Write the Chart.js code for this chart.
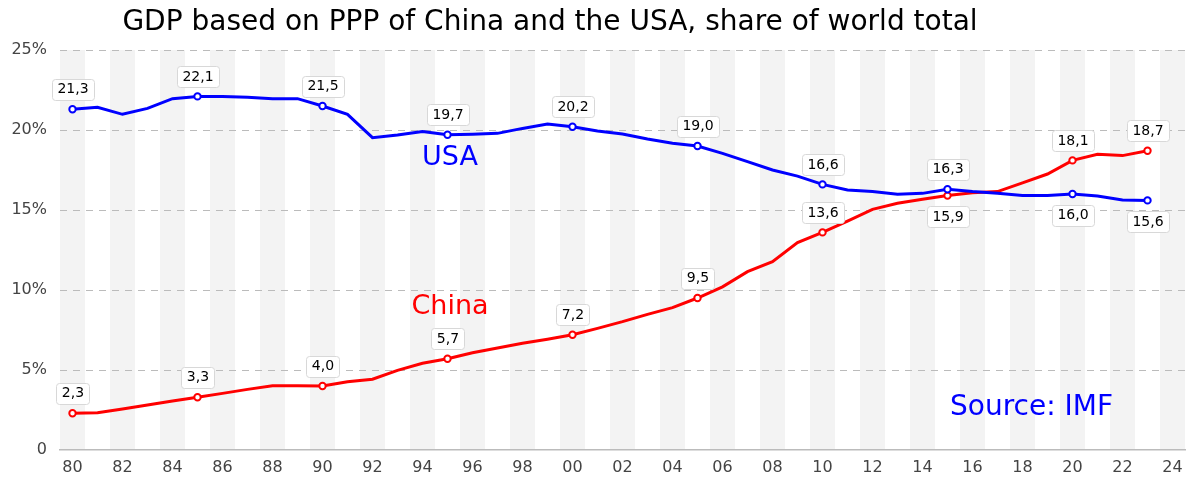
<!DOCTYPE html>
<html>
<head>
<meta charset="utf-8">
<script src="https://cdn.jsdelivr.net/npm/chart.js@4"></script>
<style>
html,body{margin:0;padding:0;background:#fff;}
#wrap{width:1200px;height:500px;position:relative;}
</style>
</head>
<body>
<div id="wrap"><canvas id="c" width="1200" height="500"></canvas></div>
<script>
const years = [1980,1981,1982,1983,1984,1985,1986,1987,1988,1989,1990,1991,1992,1993,1994,1995,1996,1997,1998,1999,2000,2001,2002,2003,2004,2005,2006,2007,2008,2009,2010,2011,2012,2013,2014,2015,2016,2017,2018,2019,2020,2021,2022,2023];
const usa = [21.3,21.42,20.98,21.35,21.96,22.1,22.1,22.04,21.96,21.96,21.5,20.98,19.52,19.69,19.9,19.7,19.73,19.79,20.1,20.37,20.2,19.94,19.75,19.44,19.17,19.0,18.54,18.02,17.5,17.12,16.6,16.25,16.15,15.98,16.04,16.3,16.15,16.04,15.9,15.9,16.0,15.87,15.62,15.6];
const china = [2.3,2.33,2.56,2.81,3.06,3.3,3.54,3.79,4.02,4.02,4.0,4.27,4.42,4.98,5.42,5.7,6.08,6.38,6.67,6.92,7.2,7.6,8.02,8.48,8.9,9.5,10.2,11.15,11.77,12.96,13.6,14.3,15.04,15.42,15.67,15.9,16.08,16.15,16.7,17.25,18.1,18.48,18.4,18.7];
const labelledYears = [1980,1985,1990,1995,2000,2005,2010,2015,2020,2023];
const usaLabelBelow = [2020,2023];
const chinaLabelBelow = [2015];
const xTickYears = [1980,1982,1984,1986,1988,1990,1992,1994,1996,1998,2000,2002,2004,2006,2008,2010,2012,2014,2016,2018,2020,2022,2024];
const yTicks = [0,5,10,15,20,25];
const titleText = 'GDP based on PPP of China and the USA, share of world total';
const notes = [
  {text:'USA', x:1995.1, y:18.27, color:'#0000ff', size:27},
  {text:'China', x:1995.1, y:8.96, color:'#ff0000', size:27},
  {text:'Source: IMF', x:2018.36, y:2.63, color:'#0000ff', size:28}
];

const FONT = "'DejaVu Sans', sans-serif";

function pts(vals){ return years.map((yr,i)=>({x:yr,y:vals[i]})); }
function radiusFn(ctx){ return labelledYears.includes(years[ctx.dataIndex]) ? 3.2 : 0; }

const stripes = {
  id:'stripes',
  beforeDraw(chart){
    const {ctx, chartArea:a, scales:{x}} = chart;
    ctx.save();
    ctx.fillStyle = '#f3f3f3';
    for (let yr = 1980; yr <= 2024; yr += 2){
      const l = x.getPixelForValue(yr-0.5), r = x.getPixelForValue(yr+0.5);
      ctx.fillRect(l, a.top, r-l, a.bottom-a.top);
    }
    ctx.restore();
  }
};

function roundRect(ctx,x,y,w,h,r){
  ctx.beginPath();
  ctx.moveTo(x+r,y);
  ctx.lineTo(x+w-r,y); ctx.quadraticCurveTo(x+w,y,x+w,y+r);
  ctx.lineTo(x+w,y+h-r); ctx.quadraticCurveTo(x+w,y+h,x+w-r,y+h);
  ctx.lineTo(x+r,y+h); ctx.quadraticCurveTo(x,y+h,x,y+h-r);
  ctx.lineTo(x,y+r); ctx.quadraticCurveTo(x,y,x+r,y);
  ctx.closePath();
}

const labels = {
  id:'labels',
  afterDatasetsDraw(chart){
    const {ctx, scales:{x,y}} = chart;
    ctx.save();
    ctx.font = '14px ' + FONT;
    ctx.textAlign = 'center';
    ctx.textBaseline = 'middle';
    const series = [[usa, usaLabelBelow],[china, chinaLabelBelow]];
    series.forEach(([vals, below])=>{
      labelledYears.forEach(yr=>{
        const v = vals[years.indexOf(yr)];
        const txt = v.toFixed(1).replace('.', ',');
        const px = x.getPixelForValue(yr) + 0.5;
        const py = y.getPixelForValue(v) + (below.includes(yr) ? 21 : -20);
        const w = ctx.measureText(txt).width + 11, h = 21;
        roundRect(ctx, Math.round(px - w/2)+0.5, Math.round(py - h/2)+0.5, Math.round(w), h, 3);
        ctx.fillStyle = '#fff'; ctx.fill();
        ctx.strokeStyle = '#d8d8d8'; ctx.lineWidth = 1; ctx.stroke();
        ctx.fillStyle = '#000';
        ctx.fillText(txt, px, py + 0.5);
      });
    });
    notes.forEach(n=>{
      ctx.font = n.size + 'px ' + FONT;
      ctx.fillStyle = n.color;
      ctx.fillText(n.text, x.getPixelForValue(n.x), y.getPixelForValue(n.y));
    });
    ctx.font = '28px ' + FONT;
    ctx.fillStyle = '#000';
    ctx.fillText(titleText, 550, 23);
    ctx.restore();
  }
};

new Chart(document.getElementById('c'), {
  type:'line',
  data:{
    datasets:[
      {label:'USA', data:pts(usa), borderColor:'#0000ff', backgroundColor:'#fff', borderWidth:3, pointRadius:radiusFn, pointBorderWidth:2, pointBackgroundColor:'#fff', pointBorderColor:'#0000ff', tension:0, fill:false},
      {label:'China', data:pts(china), borderColor:'#ff0000', backgroundColor:'#fff', borderWidth:3, pointRadius:radiusFn, pointBorderWidth:2, pointBackgroundColor:'#fff', pointBorderColor:'#ff0000', tension:0, fill:false}
    ]
  },
  options:{
    responsive:false,
    animation:false,
    events:[],
    layout:{padding:{top:50,right:15,left:0,bottom:0}},
    plugins:{legend:{display:false}, tooltip:{enabled:false}, title:{display:false}},
    scales:{
      x:{
        type:'linear', min:1979.5, max:2024.5,
        afterBuildTicks:s=>{ s.ticks = xTickYears.map(v=>({value:v})); },
        afterFit:s=>{ s.height = 50; },
        ticks:{autoSkip:false, maxRotation:0, padding:8, color:'#444', font:{family:FONT, size:16},
          callback:v=>String(v%100).padStart(2,'0')},
        grid:{display:false, drawTicks:false},
        border:{display:true, color:'#bbb', width:1.5}
      },
      y:{
        min:0, max:25,
        afterBuildTicks:s=>{ s.ticks = yTicks.map(v=>({value:v})); },
        afterFit:s=>{ s.width = 60; },
        ticks:{padding:13, color:'#444', font:{family:FONT, size:16},
          callback:v=> v===0 ? '0' : v + '%'},
        grid:{drawTicks:false, color:c=> c.tick && c.tick.value===0 ? 'rgba(0,0,0,0)' : '#bbb', lineWidth:1},
        border:{display:false, dash:[7,6]}
      }
    }
  },
  plugins:[stripes, labels]
});
</script>
</body>
</html>
